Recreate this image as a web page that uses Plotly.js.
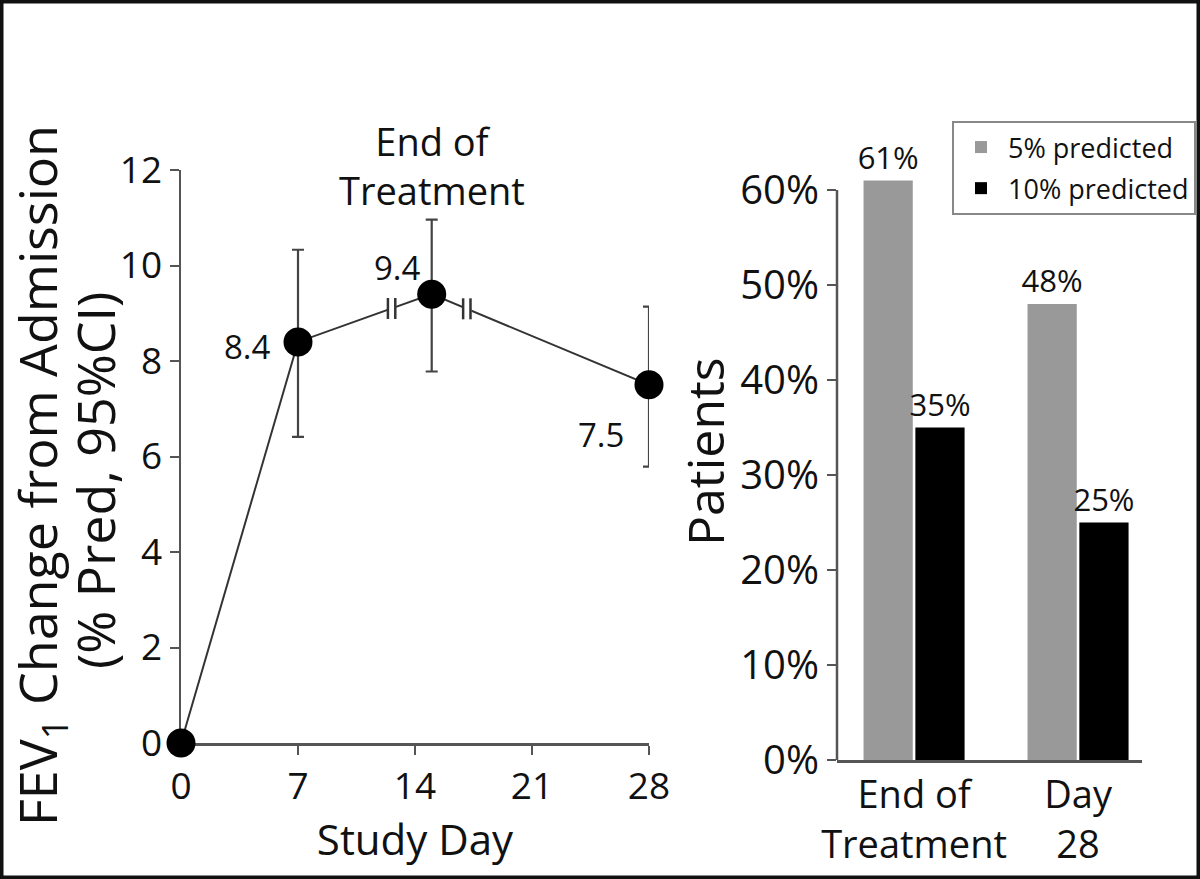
<!DOCTYPE html>
<html>
<head>
<meta charset="utf-8">
<script src="https://cdn.plot.ly/plotly-3.0.1.min.js"></script>
<style>html,body{margin:0;padding:0;background:#fff;}#chart{width:1200px;height:879px;}</style>
</head>
<body>
<div id="chart"></div>
<script>
// ---- Left panel: FEV1 change over study day ----
const studyDays = [0, 7, 15, 28];
const fevChange = [0, 8.4, 9.4, 7.5];
const ciUpper = [null, 10.33, 10.96, 9.14];
const ciLower = [null, 6.41, 7.78, 5.79];
const pointLabels = ["", "8.4", "9.4", "7.5"];
const dayTicks = [0, 7, 14, 21, 28];
const breakDays = [12.6, 17.1];

// ---- Right panel: patients reaching improvement ----
const groups = ["End of<br>Treatment", "Day<br>28"];
const pred5 = [61, 48];
const pred10 = [35, 25];
const pctTicks = [0, 10, 20, 30, 40, 50, 60];

// label pixel offsets (style only)
const labelShift = [null, [-51, -5], [-34, 27], [-48, -50]];

const FONT = "Open Sans, Noto Sans, sans-serif";
const INK = "#111";
const AX = "#555";

function interp(x) {
  for (let i = 0; i < studyDays.length - 1; i++) {
    if (x >= studyDays[i] && x <= studyDays[i + 1]) {
      const t = (x - studyDays[i]) / (studyDays[i + 1] - studyDays[i]);
      return fevChange[i] + t * (fevChange[i + 1] - fevChange[i]);
    }
  }
  return null;
}
const breakY = breakDays.map(interp);
const off = 0.22;
const breakLineX = [], breakLineY = [];
breakDays.forEach((d, i) => { breakLineX.push(d - off, d + off); breakLineY.push(breakY[i], breakY[i]); });

const errPlus = ciUpper.map((u, i) => u == null ? NaN : u - fevChange[i]);
const errMinus = ciLower.map((l, i) => l == null ? NaN : fevChange[i] - l);

const traces = [
  {
    x: studyDays, y: fevChange, type: "scatter", mode: "lines",
    line: {color: "#333", width: 2}, hoverinfo: "skip", showlegend: false,
    xaxis: "x", yaxis: "y", cliponaxis: false
  },
  {
    x: breakDays, y: breakY, type: "scatter", mode: "markers",
    marker: {symbol: "square", size: 9, color: "#fff", line: {width: 0}},
    showlegend: false, hoverinfo: "skip", xaxis: "x", yaxis: "y", cliponaxis: false
  },
  {
    x: breakLineX, y: breakLineY, type: "scatter", mode: "markers",
    marker: {symbol: "line-ns", size: 15, line: {color: "#333", width: 2.5}},
    showlegend: false, hoverinfo: "skip", xaxis: "x", yaxis: "y", cliponaxis: false
  },
  {
    x: studyDays, y: fevChange, type: "scatter", mode: "markers",
    marker: {color: "#000", size: 29},
    error_y: {
      type: "data", symmetric: false,
      array: errPlus, arrayminus: errMinus,
      color: "#444", thickness: 2.2, width: 6
    },
    showlegend: false, hoverinfo: "x+y", xaxis: "x", yaxis: "y", cliponaxis: false
  },
  {
    x: groups, y: pred5, type: "bar", name: "5% predicted", legendgroup: "p5",
    marker: {color: "#999999", line: {width: 0}},
    text: pred5.map(v => v + "%"), textposition: "outside", constraintext: "none",
    textfont: {family: FONT, size: 31, color: INK},
    xaxis: "x2", yaxis: "y2", cliponaxis: false
  },
  {
    x: groups, y: pred10, type: "bar", name: "10% predicted", legendgroup: "p10",
    marker: {color: "#000000", line: {width: 0}},
    text: pred10.map(v => v + "%"), textposition: "outside", constraintext: "none",
    textfont: {family: FONT, size: 31, color: INK},
    xaxis: "x2", yaxis: "y2", cliponaxis: false
  }
];

const axisBase = {
  showline: true, linecolor: AX, linewidth: 2.5, layer: "below traces",
  ticks: "outside", ticklen: 9, tickwidth: 2, tickcolor: AX,
  showgrid: false, zeroline: false, fixedrange: true,
  tickfont: {family: FONT, size: 37, color: INK}
};

const pointAnns = [];
studyDays.forEach((d, i) => {
  if (!pointLabels[i]) return;
  pointAnns.push({
    text: pointLabels[i], xref: "x", yref: "y", x: d, y: fevChange[i],
    xshift: labelShift[i][0], yshift: labelShift[i][1],
    xanchor: "center", yanchor: "middle", showarrow: false,
    font: {family: FONT, size: 33, color: INK}
  });
});

const layout = {
  width: 1200, height: 879,
  margin: {l: 0, r: 0, t: 0, b: 0},
  paper_bgcolor: "#fff", plot_bgcolor: "#fff",
  font: {family: FONT, color: INK},
  barmode: "group", bargap: 0.368, bargroupgap: 0.05,
  xaxis: Object.assign({}, axisBase, {
    domain: [181 / 1200, 649 / 1200], range: [0, 28],
    tickvals: dayTicks, ticktext: dayTicks.map(String),
    title: {text: "Study Day", font: {family: FONT, size: 42, color: INK}, standoff: 4},
    anchor: "y"
  }),
  yaxis: Object.assign({}, axisBase, {
    domain: [1 - 743 / 879, 1 - 170 / 879], range: [0, 12], dtick: 2,
    anchor: "x"
  }),
  xaxis2: Object.assign({}, axisBase, {
    domain: [837 / 1200, 1142 / 1200], range: [-0.47, 1.39],
    type: "category", ticks: "", tickfont: {family: FONT, size: 38, color: INK},
    anchor: "y2"
  }),
  yaxis2: Object.assign({}, axisBase, {
    domain: [1 - 760 / 879, 1 - 171 / 879], range: [0, 62], showline: false,
    tickvals: pctTicks, ticktext: pctTicks.map(v => v + "%"),
    tickfont: {family: FONT, size: 40, color: INK},
    anchor: "x2"
  }),
  legend: {
    x: 952 / 1200, y: 1 - 121 / 879, xanchor: "left", yanchor: "top",
    bordercolor: "#888", borderwidth: 2, bgcolor: "#fff", itemwidth: 44,
    font: {family: FONT, size: 27, color: INK}, tracegroupgap: 3
  },
  annotations: [
    {text: "End of<br>Treatment", xref: "x", yref: "paper", x: 15, y: 1 - 165 / 879,
     xanchor: "center", yanchor: "middle", showarrow: false,
     font: {family: FONT, size: 38, color: INK}},
    {text: "FEV<sub>1</sub> Change from Admission", xref: "paper", yref: "paper",
     x: 40 / 1200, y: 1 - 476 / 879, xanchor: "center", yanchor: "middle", textangle: -90,
     showarrow: false, font: {family: FONT, size: 52, color: INK}},
    {text: "(% Pred, 95%CI)", xref: "paper", yref: "paper",
     x: 95 / 1200, y: 1 - 481 / 879, xanchor: "center", yanchor: "middle", textangle: -90,
     showarrow: false, font: {family: FONT, size: 52, color: INK}},
    {text: "Patients", xref: "paper", yref: "paper",
     x: 705 / 1200, y: 1 - 452 / 879, xanchor: "center", yanchor: "middle", textangle: -90,
     showarrow: false, font: {family: FONT, size: 50, color: INK}}
  ].concat(pointAnns),
  shapes: [
    {type: "line", xref: "x2 domain", yref: "y2", x0: 0, x1: 0, y0: 0, y1: 60,
     line: {color: AX, width: 2.5}, layer: "below"},
    {type: "rect", xref: "paper", yref: "paper", x0: 0, x1: 1, y0: 0, y1: 1,
     line: {color: "#111", width: 7}, fillcolor: "rgba(0,0,0,0)"}
  ]
};

Plotly.newPlot("chart", traces, layout, {displayModeBar: false, staticPlot: true});
</script>
</body>
</html>
